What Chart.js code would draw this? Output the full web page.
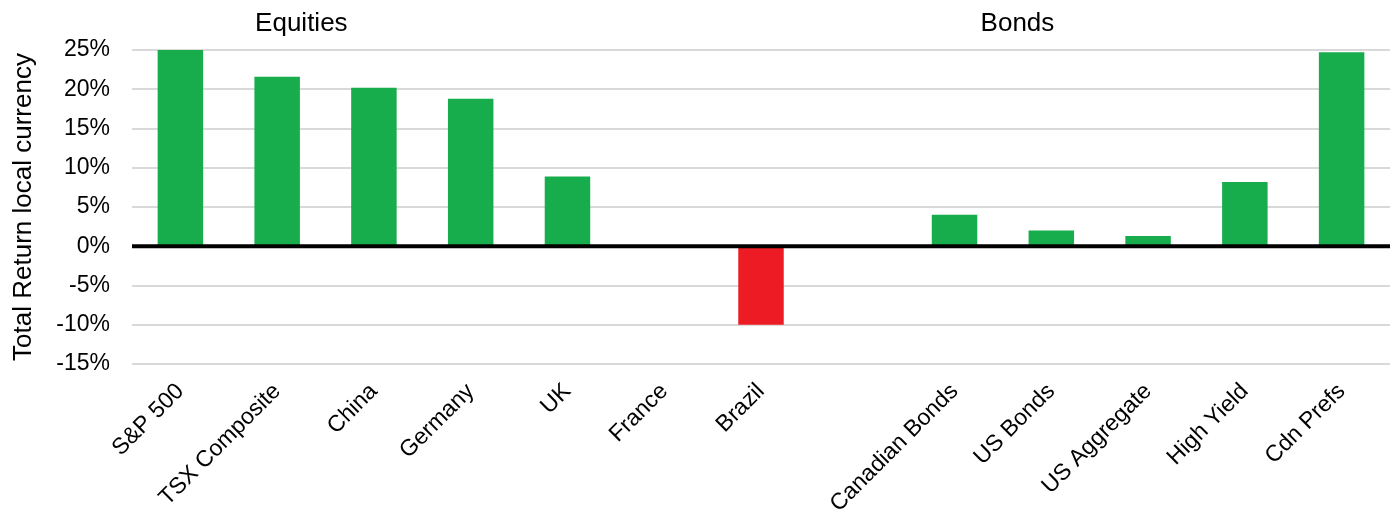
<!DOCTYPE html>
<html>
<head>
<meta charset="utf-8">
<script src="https://cdn.jsdelivr.net/npm/chart.js@4"></script>
<style>
  html, body { margin: 0; padding: 0; background: #fff; }
  #wrap { width: 1393px; height: 514px; }
</style>
</head>
<body>
<div id="wrap"><canvas id="chart"></canvas></div>
<script>
const categories = ['S&P 500', 'TSX Composite', 'China', 'Germany', 'UK', 'France', 'Brazil', '',
  'Canadian Bonds', 'US Bonds', 'US Aggregate', 'High Yield', 'Cdn Prefs'];
const returns = [25.0, 21.6, 20.2, 18.8, 8.9, 0, -10.0, null, 4.0, 2.0, 1.3, 8.2, 24.7];
const yTicks = [-15, -10, -5, 0, 5, 10, 15, 20, 25];
const groupLabels = ['Equities', 'Bonds'];
const groupAt = [1.25, 8.65]; // category index under each group label

const green = '#17AD4C';
const red = '#ED1C24';
const FONT = '"Liberation Sans", Arial, sans-serif';

const extras = {
  id: 'extras',
  afterDatasetsDraw(chart) {
    const ctx = chart.ctx, x = chart.scales.x, y = chart.scales.y;
    ctx.save();
    // zero line
    const y0 = y.getPixelForValue(0);
    ctx.strokeStyle = '#000';
    ctx.lineWidth = 4;
    ctx.beginPath();
    ctx.moveTo(chart.chartArea.left, y0);
    ctx.lineTo(chart.chartArea.right, y0);
    ctx.stroke();
    // group labels
    ctx.fillStyle = '#000';
    ctx.font = '26px ' + FONT;
    ctx.textAlign = 'center';
    ctx.textBaseline = 'middle';
    groupLabels.forEach((g, i) => {
      ctx.fillText(g, x.getPixelForValue(groupAt[i]), 24);
    });
    ctx.restore();
  }
};

new Chart(document.getElementById('chart'), {
  type: 'bar',
  data: {
    labels: categories,
    datasets: [{
      data: returns,
      backgroundColor: returns.map(v => v < 0 ? red : green),
      barPercentage: 0.47,
      categoryPercentage: 1
    }]
  },
  options: {
    responsive: true,
    maintainAspectRatio: false,
    animation: false,
    layout: { padding: { top: 50, right: 3, left: 0, bottom: 0 } },
    plugins: { legend: { display: false }, tooltip: { enabled: false } },
    scales: {
      x: {
        grid: { display: false, drawTicks: false },
        border: { display: false },
        ticks: {
          color: '#000',
          font: { family: FONT, size: 23 },
          minRotation: 45, maxRotation: 45,
          padding: 14,
          autoSkip: false
        },
        afterFit(s) { s.height = 150; }
      },
      y: {
        min: -15, max: 25,
        afterBuildTicks(s) { s.ticks = yTicks.map(v => ({ value: v })); },
        grid: { color: '#d9d9d9', lineWidth: 2, drawTicks: false },
        border: { display: false },
        ticks: {
          color: '#000',
          font: { family: FONT, size: 23 },
          padding: 22,
          callback: v => v + '%'
        },
        title: {
          display: true,
          text: 'Total Return local currency',
          color: '#000',
          font: { family: FONT, size: 26 },
          padding: { top: 8, bottom: 4 }
        },
        afterFit(s) { s.width = 132; }
      }
    }
  },
  plugins: [extras]
});
</script>
</body>
</html>
